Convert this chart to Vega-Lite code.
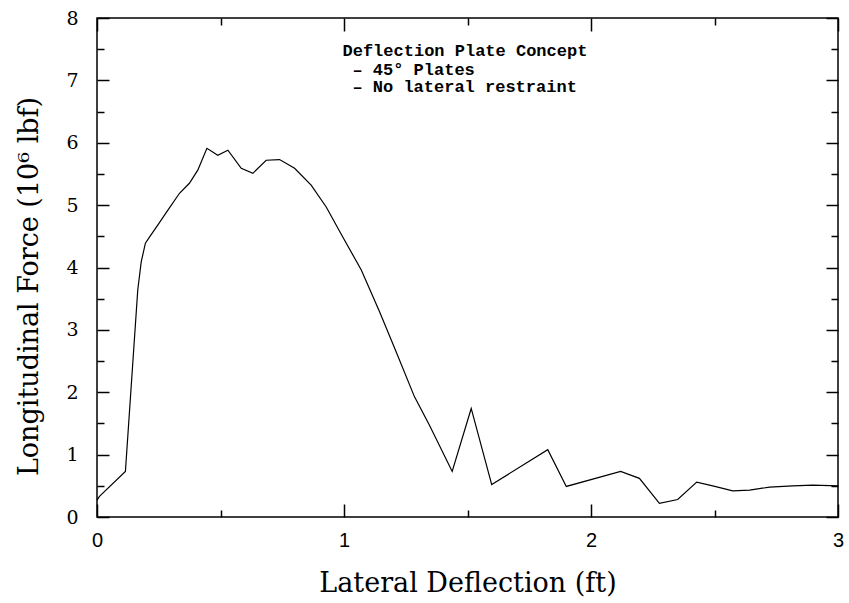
{
  "$schema": "https://vega.github.io/schema/vega-lite/v6.json",
  "width": 741,
  "height": 499,
  "autosize": "none",
  "padding": {"left": 97, "top": 18, "right": 11, "bottom": 86},
  "background": "white",
  "config": {"view": {"stroke": "black", "strokeWidth": 1.5}},
  "datasets": {
    "curve": [
      {"deflection": 0.0, "force": 0.27},
      {"deflection": 0.01, "force": 0.33},
      {"deflection": 0.115, "force": 0.73},
      {"deflection": 0.165, "force": 3.64},
      {"deflection": 0.179, "force": 4.09},
      {"deflection": 0.196, "force": 4.39},
      {"deflection": 0.213, "force": 4.49},
      {"deflection": 0.246, "force": 4.68},
      {"deflection": 0.287, "force": 4.92},
      {"deflection": 0.334, "force": 5.19},
      {"deflection": 0.374, "force": 5.35},
      {"deflection": 0.408, "force": 5.56},
      {"deflection": 0.445, "force": 5.91},
      {"deflection": 0.489, "force": 5.8},
      {"deflection": 0.53, "force": 5.88},
      {"deflection": 0.584, "force": 5.59},
      {"deflection": 0.631, "force": 5.51},
      {"deflection": 0.685, "force": 5.72},
      {"deflection": 0.739, "force": 5.73},
      {"deflection": 0.8, "force": 5.59},
      {"deflection": 0.867, "force": 5.32},
      {"deflection": 0.928, "force": 4.97},
      {"deflection": 0.995, "force": 4.49},
      {"deflection": 1.07, "force": 3.96},
      {"deflection": 1.144, "force": 3.29},
      {"deflection": 1.211, "force": 2.65},
      {"deflection": 1.285, "force": 1.93},
      {"deflection": 1.346, "force": 1.47},
      {"deflection": 1.438, "force": 0.73},
      {"deflection": 1.515, "force": 1.74},
      {"deflection": 1.598, "force": 0.52},
      {"deflection": 1.825, "force": 1.08},
      {"deflection": 1.9, "force": 0.49},
      {"deflection": 2.12, "force": 0.73},
      {"deflection": 2.196, "force": 0.62},
      {"deflection": 2.277, "force": 0.22},
      {"deflection": 2.351, "force": 0.28},
      {"deflection": 2.428, "force": 0.56},
      {"deflection": 2.493, "force": 0.5},
      {"deflection": 2.574, "force": 0.42},
      {"deflection": 2.642, "force": 0.43},
      {"deflection": 2.723, "force": 0.48},
      {"deflection": 2.817, "force": 0.5},
      {"deflection": 2.898, "force": 0.51},
      {"deflection": 3.0, "force": 0.5}
    ],
    "notes": [
      {"x": 0.994, "y": 7.47, "label": "Deflection Plate Concept"},
      {"x": 1.034, "y": 7.17, "label": "– 45° Plates"},
      {"x": 1.034, "y": 6.89, "label": "– No lateral restraint"}
    ]
  },
  "layer": [
    {
      "data": {"name": "curve"},
      "mark": {"type": "line", "color": "black", "strokeWidth": 1.2},
      "encoding": {
        "x": {
          "field": "deflection",
          "type": "quantitative",
          "scale": {"domain": [0, 3], "nice": false, "zero": false},
          "axis": {
            "orient": "bottom",
            "title": "Lateral Deflection (ft)",
            "values": [0, 0.5, 1, 1.5, 2, 2.5, 3],
            "labelExpr": "datum.value % 1 === 0 ? format(datum.value, 'd') : ''",
            "grid": false,
            "domain": false,
            "tickColor": "black",
            "tickWidth": 1.5,
            "tickSize": {"condition": {"test": "datum.value % 1 === 0", "value": -13}, "value": -7},
            "labelFont": "Liberation Sans",
            "labelFontSize": 20,
            "labelColor": "black",
            "labelPadding": 26,
            "labelFlush": false,
            "labelOverlap": false,
            "titleFont": "DejaVu Serif",
            "titleFontSize": 27,
            "titleFontWeight": "normal",
            "titleColor": "black",
            "titlePadding": 14
          }
        },
        "y": {
          "field": "force",
          "type": "quantitative",
          "scale": {"domain": [0, 8], "nice": false},
          "axis": {
            "orient": "left",
            "title": "Longitudinal Force (10⁶ lbf)",
            "values": [0, 0.5, 1, 1.5, 2, 2.5, 3, 3.5, 4, 4.5, 5, 5.5, 6, 6.5, 7, 7.5, 8],
            "labelExpr": "datum.value % 1 === 0 ? format(datum.value, 'd') : ''",
            "grid": false,
            "domain": false,
            "tickColor": "black",
            "tickWidth": 1.5,
            "tickSize": {"condition": {"test": "datum.value % 1 === 0", "value": -12}, "value": -7},
            "labelFont": "DejaVu Serif",
            "labelFontSize": 19,
            "labelColor": "black",
            "labelPadding": 31,
            "labelFlush": false,
            "labelOverlap": false,
            "titleFont": "DejaVu Serif",
            "titleFontSize": 27,
            "titleFontWeight": "normal",
            "titleColor": "black",
            "titlePadding": 22,
            "titleY": 268
          }
        }
      }
    },
    {
      "data": {"name": "notes"},
      "mark": {"type": "text", "align": "left", "baseline": "middle", "font": "Liberation Mono", "fontSize": 17, "fontWeight": "bold", "color": "black"},
      "encoding": {
        "x": {
          "field": "x",
          "type": "quantitative",
          "axis": {
            "orient": "top",
            "title": null,
            "values": [0, 0.5, 1, 1.5, 2, 2.5, 3],
            "labels": false,
            "grid": false,
            "domain": false,
            "tickColor": "black",
            "tickWidth": 1.5,
            "tickSize": {"condition": {"test": "datum.value % 1 === 0", "value": -13}, "value": -7}
          }
        },
        "y": {
          "field": "y",
          "type": "quantitative",
          "axis": {
            "orient": "right",
            "title": null,
            "values": [0, 0.5, 1, 1.5, 2, 2.5, 3, 3.5, 4, 4.5, 5, 5.5, 6, 6.5, 7, 7.5, 8],
            "labels": false,
            "grid": false,
            "domain": false,
            "tickColor": "black",
            "tickWidth": 1.5,
            "tickSize": {"condition": {"test": "datum.value % 1 === 0", "value": -12}, "value": -7}
          }
        },
        "text": {"field": "label"}
      }
    }
  ],
  "resolve": {"axis": {"x": "independent", "y": "independent"}}
}
